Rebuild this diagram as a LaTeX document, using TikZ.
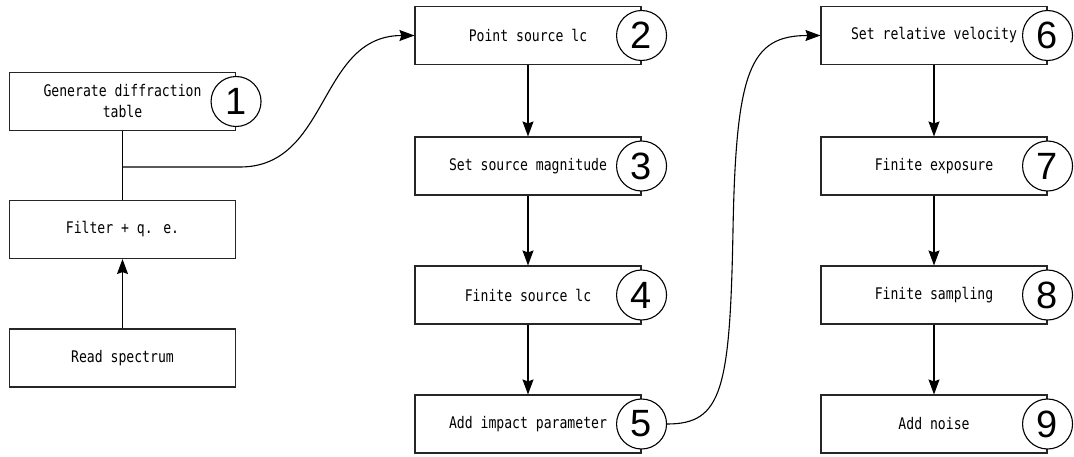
\documentclass[tikz,border=0pt]{standalone}
\usepackage{fontspec}
\newfontfamily\boxfont[FakeStretch=0.82]{DejaVu Sans Mono}
\newfontfamily\numfont{Liberation Sans}
\usetikzlibrary{arrows.meta}
\tikzset{
  stepbox/.style={draw=black!85, line width=1.1pt, fill=white, rectangle,
    minimum width=226pt, minimum height=58pt, inner sep=0pt, align=center,
    font=\boxfont\fontsize{16}{21}\selectfont},
  numcirc/.style={draw=black, line width=1.1pt, fill=white, circle,
    minimum size=50pt, inner sep=0pt, font=\numfont\fontsize{38}{38}\selectfont},
  conn/.style={line width=1.1pt, draw=black},
  arr/.style={conn, -{Stealth[length=15pt,width=11pt,inset=2pt]}}
}
\begin{document}
\begin{tikzpicture}[x=1pt,y=-1pt]
\useasboundingbox (0,0) rectangle (1074,456);
% left column
\node[stepbox] (b1) at (122.5,101.5) {Generate diffraction\\table};
\node[stepbox] (filt) at (122.5,229.5) {Filter + q. e.};
\node[stepbox] (read) at (122.5,358) {Read spectrum};
% middle column
\node[stepbox] (b2) at (528,35.5) {Point source lc};
\node[stepbox] (b3) at (528,166) {Set source magnitude};
\node[stepbox] (b4) at (528,295) {Finite source lc};
\node[stepbox] (b5) at (528,424) {Add impact parameter};
% right column
\node[stepbox] (b6) at (934,35.5) {Set relative velocity};
\node[stepbox] (b7) at (934,166) {Finite exposure};
\node[stepbox] (b8) at (934,295) {Finite sampling};
\node[stepbox] (b9) at (934,424) {Add noise};
% number circles
\node[numcirc] (c1) at (b1.east) {1};
\node[numcirc] (c2) at (b2.east) {2};
\node[numcirc] (c3) at (b3.east) {3};
\node[numcirc] (c4) at (b4.east) {4};
\node[numcirc] (c5) at (b5.east) {5};
\node[numcirc] (c6) at (b6.east) {6};
\node[numcirc] (c7) at (b7.east) {7};
\node[numcirc] (c8) at (b8.east) {8};
\node[numcirc] (c9) at (b9.east) {9};
% connectors
\coordinate (j) at (122.5,167);
\coordinate (jr) at (240,167);
\draw[conn] (b1.south) -- (filt.north);
\draw[arr] (read.north) -- (filt.south);
\draw[arr] (j) -- (jr) .. controls (330,167) and (318,35.5) .. (b2.west);
\draw[arr] (b2.south) -- (b3.north);
\draw[arr] (b3.south) -- (b4.north);
\draw[arr] (b4.south) -- (b5.north);
\coordinate (m) at (733,230);
\draw[arr] (c5.east) .. controls (722,424) and (730,390) .. (m)
  .. controls (736,70) and (750,35.5) .. (b6.west);
\draw[arr] (b6.south) -- (b7.north);
\draw[arr] (b7.south) -- (b8.north);
\draw[arr] (b8.south) -- (b9.north);
\end{tikzpicture}
\end{document}
